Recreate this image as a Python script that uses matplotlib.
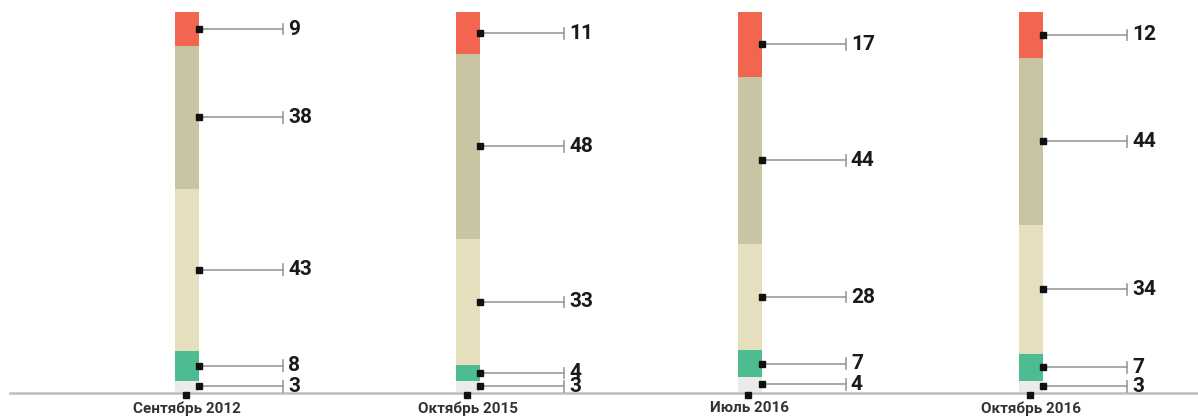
import numpy as np
import matplotlib.pyplot as plt

plt.rcParams['font.family'] = ['Liberation Sans Narrow', 'Roboto', 'DejaVu Sans']

periods = ['Сентябрь 2012', 'Октябрь 2015', 'Июль 2016', 'Октябрь 2016']
# segments from bottom to top
gray_vals = [3, 3, 4, 3]
green_vals = [8, 4, 7, 7]
light_vals = [43, 33, 28, 34]
olive_vals = [38, 48, 44, 44]
red_vals = [9, 11, 17, 12]

series = [gray_vals, green_vals, light_vals, olive_vals, red_vals]
colors = ['#ebebeb', '#4dbd91', '#e5dfbe', '#c9c4a1', '#f2654f']

fig = plt.figure(figsize=(11.98, 4.19), dpi=100)
ax = fig.add_axes([0, 0, 1, 1])
ax.set_xlim(-0.665, 3.594)
ax.set_ylim(-7.1, 103.2)
ax.axis('off')

data = np.array(series, dtype=float)
totals = data.sum(axis=0)
pct = data / totals * 100

x = np.arange(len(periods))
bw = 0.085
bottom = np.zeros(len(periods))
for vals, p, c in zip(series, pct, colors):
    ax.bar(x, p, bottom=bottom, width=bw, color=c, edgecolor='none', zorder=2)
    mid = bottom + p / 2
    for i in range(len(periods)):
        x0 = x[i] + bw / 2
        x1 = x[i] + 0.341
        ax.plot([x0, x1], [mid[i], mid[i]], color='#9a9a9a', lw=1.2, zorder=3)
        ax.plot([x1, x1], [mid[i] - 1.4, mid[i] + 1.4], color='#9a9a9a', lw=1.2, zorder=3)
        ax.plot(x0, mid[i], 's', color='#111111', ms=5, zorder=4)
        ax.text(x[i] + 0.36, mid[i], str(vals[i]), fontsize=15, fontweight='bold',
                color='#1a1a1a', ha='left', va='center', zorder=5)
    bottom += p

# baseline
ax.plot([-0.63, 3.6], [-0.3, -0.3], color='#bdbdbd', lw=1.8, zorder=1)
for i, name in enumerate(periods):
    ax.plot(x[i] - 0.005, -0.9, 's', color='#111111', ms=5, zorder=4)
    ax.text(x[i], -4.3, name, fontsize=11, fontweight='bold', color='#333333',
            ha='center', va='center')

fig.savefig('out.png', dpi=100)
